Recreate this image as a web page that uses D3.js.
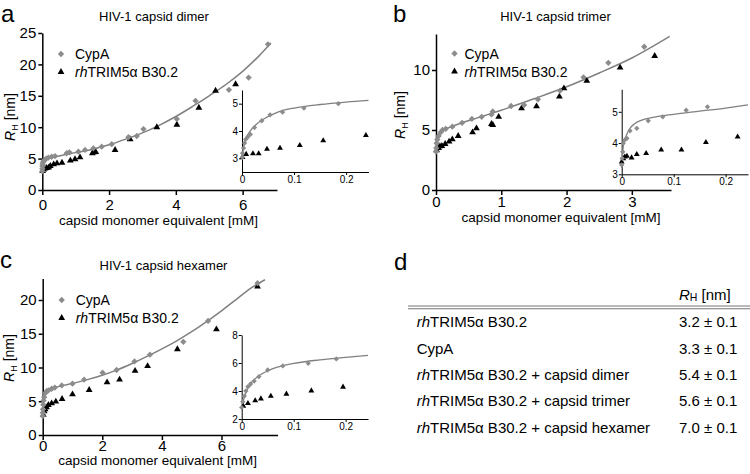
<!DOCTYPE html>
<html><head><meta charset="utf-8">
<script src="https://cdn.jsdelivr.net/npm/d3@7"></script>
<style>
body{margin:0;background:#fff}
svg{display:block}
text{font-family:Arial,"Liberation Sans",Helvetica,sans-serif;fill:#000}
</style>
</head><body>
<svg id="chart" width="750" height="474"></svg>
<script>
// ---------------- DATA ----------------
// Panel a: HIV-1 capsid dimer (x: capsid monomer equivalent [mM], y: R_H [nm])
const dimerCypA = [[0,3.0],[0.003,3.4],[0.006,3.8],[0.01,4.1],[0.02,4.4],[0.04,4.6],[0.07,4.8],[0.12,5.0],[0.18,5.15],[0.28,5.3],[0.38,5.4],[0.73,5.85],[0.81,6.0],[1.08,6.1],[1.28,6.38],[1.53,6.64],[1.78,6.9],[2.08,7.3],[2.58,8.4],[2.83,8.6],[3.03,9.7],[4.03,11.3],[4.59,14.2],[5.59,15.95],[6.18,17.9],[6.76,23.2]];
const dimerTrim = [[0.01,3.0],[0.04,3.25],[0.08,3.4],[0.13,3.5],[0.19,3.56],[0.24,3.82],[0.34,4.08],[0.44,4.25],[0.59,4.35],[0.84,4.68],[0.98,4.89],[1.13,5.2],[1.5,5.85],[1.55,6.0],[1.6,6.06],[2.18,6.38],[2.63,8.08],[3.43,10.0],[4.03,10.4],[4.69,13.1],[5.19,15.8],[5.79,16.85]];
const dimerFit = [[0,2.9],[0.01,3.6],[0.03,4.3],[0.06,4.65],[0.1,4.85],[0.2,5.05],[0.4,5.3],[0.7,5.65],[1,5.95],[1.5,6.5],[2,7.2],[2.5,8.1],[3,9.1],[3.5,10.3],[4,11.7],[4.5,13.3],[5,15.0],[5.5,16.8],[6,18.9],[6.5,21.4],[6.85,23.4]];
const dimerInsetCypA = [[0.0007,3.04],[0.001,3.19],[0.003,3.375],[0.005,3.56],[0.007,3.69],[0.011,3.78],[0.016,3.875],[0.024,4.125],[0.038,4.375],[0.054,4.59],[0.078,4.69],[0.119,4.84],[0.185,5.0]];
const dimerInsetTrim = [[0.001,3.04],[0.008,3.15],[0.021,3.175],[0.032,3.175],[0.048,3.34],[0.073,3.375],[0.111,3.475],[0.156,3.65],[0.238,3.84]];
const dimerInsetFit = [[0,3.0],[0.003,3.4],[0.008,3.75],[0.015,3.98],[0.025,4.2],[0.04,4.42],[0.06,4.62],[0.08,4.76],[0.1,4.84],[0.15,4.97],[0.2,5.06],[0.243,5.12]];

// Panel b: HIV-1 capsid trimer
const trimerCypA = [[0,3.2],[0.005,3.5],[0.01,3.9],[0.02,4.2],[0.04,4.5],[0.07,4.8],[0.1,5.0],[0.15,5.1],[0.25,5.28],[0.4,5.6],[0.55,5.92],[0.7,6.1],[0.85,6.3],[0.87,6.55],[1.15,7.0],[1.35,7.08],[1.56,7.56],[1.9,8.28],[2.26,9.39],[2.64,10.6],[3.19,11.94]];
const trimerTrim = [[0.01,3.3],[0.04,3.5],[0.06,3.65],[0.09,3.67],[0.14,3.83],[0.2,4.03],[0.25,4.22],[0.34,4.5],[0.56,4.8],[0.62,5.14],[0.85,5.5],[0.87,5.42],[0.96,6.1],[1.31,6.8],[1.54,6.97],[1.89,7.78],[1.96,8.47],[2.31,9.1],[2.82,10.2],[3.35,11.17]];
const trimerFit = [[0,3.1],[0.005,3.8],[0.02,4.35],[0.05,4.75],[0.1,4.97],[0.2,5.2],[0.4,5.6],[0.6,5.95],[0.8,6.3],[1.0,6.65],[1.5,7.6],[2.0,8.6],[2.5,9.75],[3.0,11.0],[3.58,12.8]];
const trimerInsetCypA = [[0,3.3],[0.001,3.51],[0.002,3.72],[0.003,3.99],[0.006,4.1],[0.01,4.15],[0.016,4.39],[0.029,4.47],[0.051,4.71],[0.079,4.84],[0.124,5.05],[0.165,5.16]];
const trimerInsetTrim = [[0,3.4],[0.003,3.5],[0.006,3.56],[0.01,3.58],[0.019,3.53],[0.029,3.64],[0.047,3.67],[0.076,3.78],[0.115,3.78],[0.162,4.02],[0.223,4.2]];
const trimerInsetFit = [[0,3.2],[0.003,3.9],[0.008,4.2],[0.015,4.45],[0.025,4.62],[0.04,4.74],[0.06,4.82],[0.1,4.92],[0.15,5.02],[0.2,5.12],[0.243,5.22]];

// Panel c: HIV-1 capsid hexamer
const hexCypA = [[0,2.8],[0.005,3.3],[0.01,3.8],[0.02,4.5],[0.03,5.1],[0.05,5.6],[0.08,6.17],[0.13,6.5],[0.19,6.6],[0.3,6.85],[0.41,7.03],[0.64,7.35],[1.0,7.6],[1.39,8.2],[2.01,9.23],[2.48,9.63],[3.08,10.9],[3.6,11.9],[4.72,13.8],[5.55,16.9],[7.21,22.5]];
const hexTrim = [[0.02,3.0],[0.05,3.5],[0.08,3.8],[0.13,4.1],[0.19,4.44],[0.3,4.69],[0.44,4.94],[0.65,5.33],[1.0,6.02],[1.56,6.67],[2.16,7.8],[2.58,8.2],[3.1,9.5],[3.52,10.2],[4.52,12.7],[5.83,15.65],[7.21,22.0]];
const hexFit = [[0,2.8],[0.01,4.3],[0.03,5.3],[0.06,5.9],[0.1,6.25],[0.2,6.65],[0.4,7.0],[0.7,7.35],[1.0,7.65],[1.5,8.2],[2.0,8.85],[2.5,9.65],[3.0,10.6],[3.5,11.65],[4.0,12.75],[4.5,13.95],[5.0,15.3],[5.5,16.8],[6.0,18.4],[6.5,20.1],[7.0,21.8],[7.46,23.0]];
const hexInsetCypA = [[0,2.83],[0.002,3.24],[0.005,3.64],[0.008,4.0],[0.012,4.31],[0.017,4.5],[0.024,4.71],[0.033,5.02],[0.05,5.5],[0.079,5.79],[0.128,5.98],[0.182,6.29]];
const hexInsetTrim = [[0.003,2.93],[0.012,3.12],[0.026,3.31],[0.037,3.45],[0.056,3.64],[0.086,3.79],[0.134,4.02],[0.195,4.29]];
const hexInsetFit = [[0,2.8],[0.003,3.3],[0.008,3.9],[0.015,4.4],[0.025,4.85],[0.04,5.25],[0.06,5.6],[0.08,5.82],[0.1,5.97],[0.15,6.22],[0.2,6.4],[0.243,6.55]];

// Tick values / labels
const dimerXTicks = [0,2,4,6], dimerYTicks = [0,5,10,15,20,25];
const trimerXTicks = [0,1,2,3], trimerYTicks = [0,5,10];
const hexXTicks = [0,2,4,6], hexYTicks = [0,5,10,15,20];
const insetXTicks = [0,0.1,0.2], insetXLabels = ["0","0.1","0.2"];
const dimerInsetYTicks = [3,4,5], trimerInsetYTicks = [3,4,5], hexInsetYTicks = [2,4,6,8];

const legendLabels = ["CypA","TRIM5α B30.2"];
const titles = ["HIV-1 capsid dimer","HIV-1 capsid trimer","HIV-1 capsid hexamer"];
const xLabel = "capsid monomer equivalent [mM]";

// Panel d table
const tableRows = ["rhTRIM5α B30.2","CypA","rhTRIM5α B30.2 + capsid dimer","rhTRIM5α B30.2 + capsid trimer","rhTRIM5α B30.2 + capsid hexamer"];
const tableValues = ["3.2 ± 0.1","3.3 ± 0.1","5.4 ± 0.1","5.6 ± 0.1","7.0 ± 0.1"];

// ---------------- DRAWING ----------------
const svg = d3.select("#chart");
const MARK = "#8c8c8c", FIT = "#808080";
const diamond = d3.symbol().type(d3.symbolSquare);
const tri = d3.symbol().type(d3.symbolTriangle);

function styleAxis(sel, fs, sw){
  sel.selectAll("path.domain").attr("stroke","#000").attr("stroke-width",sw);
  sel.selectAll(".tick line").attr("stroke","#000").attr("stroke-width",sw);
  sel.selectAll(".tick text").attr("font-size",fs).attr("fill","#000")
     .attr("font-family","Arial, 'Liberation Sans', sans-serif");
}

function drawSeries(g, x, y, fit, cyp, trim, dSize, tSize, lw){
  const line = d3.line().x(d=>x(d[0])).y(d=>y(d[1])).curve(d3.curveMonotoneX);
  g.append("path").datum(fit).attr("d",line).attr("fill","none")
   .attr("stroke",FIT).attr("stroke-width",lw);
  g.selectAll(null).data(trim).enter().append("path")
   .attr("d",tri.size(tSize)())
   .attr("transform",d=>`translate(${x(d[0])},${y(d[1])})`).attr("fill","#000");
  g.selectAll(null).data(cyp).enter().append("path")
   .attr("d",diamond.size(dSize)())
   .attr("transform",d=>`translate(${x(d[0])},${y(d[1])}) rotate(45)`).attr("fill",MARK);
}

function drawPanel(p){
  const g = svg.append("g");
  const x = d3.scaleLinear().domain(p.xd).range(p.xr);
  const y = d3.scaleLinear().domain(p.yd).range(p.yr);

  const xa = g.append("g").attr("transform",`translate(0,${p.yr[0]})`)
    .call(d3.axisBottom(x).tickValues(p.xt).tickSize(5).tickPadding(p.xpad).tickSizeOuter(0).tickFormat(d3.format("d")));
  styleAxis(xa,15,1.5);
  const ya = g.append("g").attr("transform",`translate(${p.xr[0]},0)`)
    .call(d3.axisLeft(y).tickValues(p.yt).tickSize(4).tickPadding(2).tickSizeOuter(0).tickFormat(d3.format("d")));
  styleAxis(ya,15,1.5);

  drawSeries(g, x, y, p.fit, p.cyp, p.trim, 20, 20, 1.5);

  // inset
  const ix = d3.scaleLinear().domain(p.ixd).range(p.ixr);
  const iy = d3.scaleLinear().domain(p.iyd).range(p.iyr);
  const ixa = g.append("g").attr("transform",`translate(0,${p.iyr[0]})`)
    .call(d3.axisBottom(ix).tickValues(insetXTicks).tickSize(3).tickPadding(1).tickSizeOuter(0).tickFormat((d,i)=>insetXLabels[i]));
  styleAxis(ixa,10,1);
  const iya = g.append("g").attr("transform",`translate(${p.ixr[0]},0)`)
    .call(d3.axisLeft(iy).tickValues(p.iyt).tickSize(3).tickPadding(1).tickSizeOuter(0).tickFormat(d3.format("d")));
  styleAxis(iya,10,1);
  drawSeries(g, ix, iy, p.ifit, p.icyp, p.itrim, 14, 15, 1.3);

  // title, letters, labels
  g.append("text").attr("x",p.titleX).attr("y",p.titleY).attr("text-anchor","middle")
   .attr("font-size",13).text(p.title);
  g.append("text").attr("x",p.letterX).attr("y",p.letterY).attr("font-size",24).text(p.letter);
  g.append("text").attr("x",p.xlX).attr("y",p.xlY).attr("text-anchor","middle")
   .attr("font-size",13.5).text(xLabel);
  const yl = g.append("text").attr("transform",`translate(${p.ylX},${p.ylY}) rotate(-90)`)
   .attr("text-anchor","middle").attr("font-size",14);
  yl.append("tspan").attr("font-style","italic").text("R");
  yl.append("tspan").attr("font-size",9).attr("dy",3).text("H");
  yl.append("tspan").attr("dy",-3).text(" [nm]");

  // legend
  g.append("path").attr("d",diamond.size(20)())
   .attr("transform",`translate(${p.legX},${p.legY}) rotate(45)`).attr("fill",MARK);
  g.append("text").attr("x",p.legX+p.legGap).attr("y",p.legY+5).attr("font-size",14).text(legendLabels[0]);
  g.append("path").attr("d",tri.size(20)())
   .attr("transform",`translate(${p.legX},${p.legY+18})`).attr("fill","#000");
  const lt = g.append("text").attr("x",p.legX+p.legGap).attr("y",p.legY+23).attr("font-size",14);
  lt.append("tspan").attr("font-style","italic").text("rh");
  lt.append("tspan").text(legendLabels[1]);
}

drawPanel({letter:"a", letterX:1, letterY:22, title:titles[0], titleX:154, titleY:21,
  xd:[0,7.03], xr:[42.3,277], yd:[0,25], yr:[190,33], xt:dimerXTicks, yt:dimerYTicks, xpad:4,
  fit:dimerFit, cyp:dimerCypA, trim:dimerTrim,
  ixd:[0,0.243], ixr:[242,368.5], iyd:[2.5,5.5], iyr:[172,90], iyt:dimerInsetYTicks,
  ifit:dimerInsetFit, icyp:dimerInsetCypA, itrim:dimerInsetTrim,
  xlX:158.5, xlY:225, ylX:14.5, ylY:117, legX:61, legY:54, legGap:14});

drawPanel({letter:"b", letterX:393, letterY:22, title:titles[1], titleX:555.5, titleY:21,
  xd:[0,3.6], xr:[436,671], yd:[0,13], yr:[190,34], xt:trimerXTicks, yt:trimerYTicks, xpad:1,
  fit:trimerFit, cyp:trimerCypA, trim:trimerTrim,
  ixd:[0,0.243], ixr:[621.7,748], iyd:[3,5.72], iyr:[174.3,89.3], iyt:trimerInsetYTicks,
  ifit:trimerInsetFit, icyp:trimerInsetCypA, itrim:trimerInsetTrim,
  xlX:561, xlY:222, ylX:404.5, ylY:115, legX:454.5, legY:53.5, legGap:10});

drawPanel({letter:"c", letterX:0, letterY:268, title:titles[2], titleX:163.5, titleY:270,
  xd:[0,7.88], xr:[42.7,277.5], yd:[0,23.2], yr:[435,278.4], xt:hexXTicks, yt:hexYTicks, xpad:0,
  fit:hexFit, cyp:hexCypA, trim:hexTrim,
  ixd:[0,0.243], ixr:[241.7,368], iyd:[2,8], iyr:[419,335], iyt:hexInsetYTicks,
  ifit:hexInsetFit, icyp:hexInsetCypA, itrim:hexInsetTrim,
  xlX:157.7, xlY:465, ylX:13.5, ylY:358, legX:61.7, legY:300, legGap:14});

// Panel d: table
const td = svg.append("g");
td.append("text").attr("x",394).attr("y",270).attr("font-size",24).text("d");
const hdr = td.append("text").attr("x",679).attr("y",300).attr("font-size",15);
hdr.append("tspan").attr("font-style","italic").text("R");
hdr.append("tspan").attr("font-size",10.5).attr("dy",1).text("H");
hdr.append("tspan").attr("dy",-1).text(" [nm]");
[306,308.8].forEach(yy=>td.append("line").attr("x1",408).attr("x2",750).attr("y1",yy).attr("y2",yy)
  .attr("stroke","#777").attr("stroke-width",1.1));
const rowY = d3.scaleLinear().domain([0,tableRows.length-1]).range([327.3,432.7]);
tableRows.forEach((r,i)=>{
  const t = td.append("text").attr("x",416.7).attr("y",rowY(i)).attr("font-size",15);
  if(r.startsWith("rh")){
    t.append("tspan").attr("font-style","italic").text("rh");
    t.append("tspan").text(r.slice(2));
  } else t.text(r);
  td.append("text").attr("x",679).attr("y",rowY(i)).attr("font-size",15).text(tableValues[i]);
});
</script>
</body></html>
